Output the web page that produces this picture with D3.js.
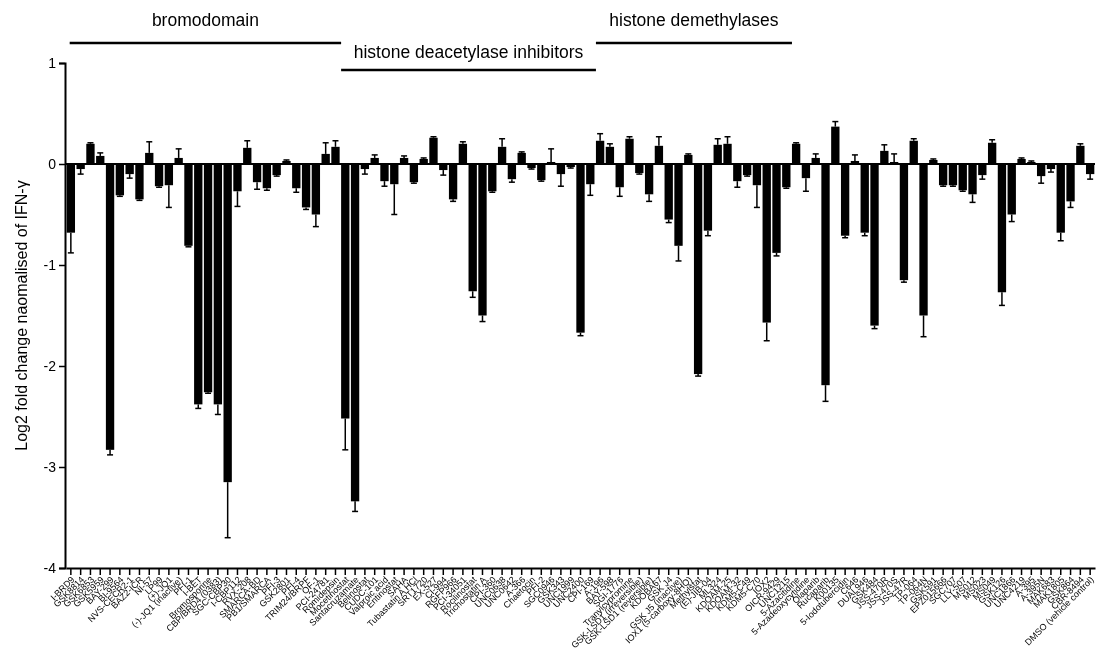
<!DOCTYPE html>
<html>
<head>
<meta charset="utf-8">
<script src="https://cdn.jsdelivr.net/npm/d3@7"></script>
<style>
  body { margin: 0; background: #fff; }
  svg { will-change: transform; }
  text { font-family: Arial, "Liberation Sans", sans-serif; fill: #000; }
</style>
</head>
<body>
<div id="chart"></div>
<script>

// compound names, in the order of the bars
const compounds = [
    'I-BRD9', 'GSK8814', 'GSK6853', 'GSK5959', 'BAY-299', 'BI-9564', 'NVS-CECR2-1', 'BAZ2-ICR',
    'NI-57', 'LP99', '(+)-JQ1', '(-)-JQ1 (inactive)', 'PFI-1', 'I-BET', 'Bromosporine',
    'CBP/BRD4 (0383)', 'SGC-CBP30', 'I-CBP112', 'RVX-208', 'SMARCA-BD', 'PB1/SMARCA', 'PFI-3',
    'GSK2801', 'PFI-4', 'TRIM24/BRPF', 'OF-1', 'PCI-24781', 'Romidepsin',
    'Mocetinostat', 'Santacruzamate', 'Belinostat', 'CUDC-101', 'Valproic acid', 'Entinostat',
    'SAHA', 'Tubastatin A HCl', 'SRT1720', 'EX-527', 'CI-994', 'RGFP966', 'PCI-34051',
    'Rocilinostat', 'Trichostatin A', 'CPI-360', 'UNC0638', 'UNC0642', 'A-366', 'Chaetocin',
    'PFI-2', 'SGC0946', 'GSK343', 'UNC1999', 'UNC2400', 'CPI-169',
    'A-196', 'BAY-598', 'SGI-1776', 'Tranylcypromine', 'GSK-LSD1 (irreversible)',
    'GSK-LSD1 (reversible)', 'KDOBA67', 'GSK J4', 'GSK J5 (inactive)', 'IOX1 (5-carboxy-8HQ)',
    'Methylstat', '(E)-JIB-04', 'ML324', 'KDOAM-25', 'KDOAM-32', 'KDM5-C49', 'KDM5-C70', 'IOX2',
    'OICR-9429', 'UNC1215',
    '5-Azacitidine', '5-Azadeoxycytidine', 'Olaparib', 'Rucaparib', 'K00135', '5-Iodotubercidin',
    'C646', 'DUAL946', 'GSK484', 'JSS-470R', 'JSS-470S', 'JSS-47R', 'TP-064', 'TP-064N',
    'GSK591', 'EPZ015666', 'SGC707', 'LLY-507', 'MS012', 'MS023', 'MS049', 'GSK126', 'UNC1866',
    'UNC4219', 'A-395', 'A-395N', 'MAK683', 'MAK1805', 'GSK864', 'CBR-8494', 'DMSO (vehicle control)'
];

// mean log2 fold change
const meanValues = [
    -0.68, -0.05, 0.20, 0.08, -2.83, -0.31, -0.10, -0.35, 0.11, -0.22,
    -0.21, 0.06, -0.81, -2.38, -2.26, -2.38, -3.15, -0.27, 0.16, -0.18,
    -0.24, -0.11, 0.03, -0.24, -0.43, -0.50, 0.10, 0.17, -2.52, -3.34,
    -0.05, 0.06, -0.17, -0.20, 0.06, -0.18, 0.05, 0.26, -0.06, -0.35,
    0.20, -1.26, -1.50, -0.27, 0.17, -0.15, 0.11, -0.04, -0.16, 0.02,
    -0.10, -0.03, -1.67, -0.20, 0.23, 0.17, -0.23, 0.25, -0.09, -0.30,
    0.18, -0.55, -0.81, 0.09, -2.08, -0.66, 0.19, 0.20, -0.17, -0.11,
    -0.21, -1.57, -0.88, -0.23, 0.20, -0.14, 0.06, -2.19, 0.37, -0.71,
    0.03, -0.68, -1.60, 0.13, 0.02, -1.15, 0.23, -1.50, 0.04, -0.21,
    -0.21, -0.26, -0.30, -0.11, 0.21, -1.27, -0.50, 0.05, 0.02, -0.12,
    -0.05, -0.68, -0.37, 0.18, -0.10
];

// SEM, drawn away from zero only
const semValues = [
    0.20, 0.05, 0.01, 0.03, 0.05, 0.01, 0.04, 0.01, 0.11, 0.01,
    0.22, 0.09, 0.01, 0.04, 0.01, 0.10, 0.55, 0.15, 0.07, 0.07,
    0.02, 0.01, 0.01, 0.04, 0.02, 0.12, 0.11, 0.06, 0.31, 0.10,
    0.05, 0.03, 0.05, 0.30, 0.02, 0.01, 0.01, 0.01, 0.05, 0.02,
    0.02, 0.06, 0.06, 0.01, 0.08, 0.03, 0.01, 0.01, 0.01, 0.13,
    0.12, 0.01, 0.03, 0.11, 0.07, 0.03, 0.09, 0.02, 0.01, 0.07,
    0.09, 0.03, 0.15, 0.01, 0.02, 0.05, 0.06, 0.07, 0.06, 0.01,
    0.22, 0.18, 0.03, 0.01, 0.01, 0.13, 0.04, 0.16, 0.05, 0.02,
    0.06, 0.03, 0.03, 0.06, 0.08, 0.02, 0.02, 0.21, 0.01, 0.01,
    0.01, 0.01, 0.08, 0.04, 0.03, 0.13, 0.07, 0.01, 0.01, 0.07,
    0.03, 0.08, 0.06, 0.02, 0.05
];

// compound classes marked above the plot (first and last bar index)
const groupNames = ['bromodomain', 'histone deacetylase inhibitors', 'histone demethylases'];
const groupFirst = [0, 28, 54];
const groupLast = [27, 53, 73];

const yTicks = [1, 0, -1, -2, -3, -4];

function drawChart() {

    const margin = {top: 63, right: 6, bottom: 83, left: 65},
        width = 1101 - margin.left - margin.right,
        height = 651 - margin.top - margin.bottom;

    const svg = d3.select('#chart')
    .append('svg')
        .attr('width', width + margin.left + margin.right)
        .attr('height', height + margin.top + margin.bottom)
    .append('g')
        .attr('transform', `translate(${margin.left}, ${margin.top})`);

    const data = compounds.map(function(name, i) {
        return {name: name, value: meanValues[i], sem: semValues[i]};
    });

    // X scale, one band per compound
    const x = d3.scaleBand()
        .domain(compounds)
        .range([1, width])
        .paddingInner(0.15)
        .paddingOuter(0.07);

    const y = d3.scaleLinear()
        .domain([-4, 1])
        .range([height, 0]);

    // bars
    svg.append('g')
        .selectAll('rect')
        .data(data)
        .enter()
        .append('rect')
        .attr('x', d => x(d.name))
        .attr('width', x.bandwidth())
        .attr('y', d => y(Math.max(0, d.value)))
        .attr('height', d => Math.abs(y(d.value) - y(0)))
        .style('fill', '#000');

    // error bars (one sided)
    const err = svg.append('g')
        .selectAll('g')
        .data(data)
        .enter()
        .append('g')
        .attr('transform', d => `translate(${x(d.name) + x.bandwidth() / 2}, 0)`);

    const tip = d => d.value >= 0 ? d.value + d.sem : d.value - d.sem;

    err.append('line')
        .attr('y1', d => y(d.value))
        .attr('y2', d => y(tip(d)))
        .style('stroke', '#000')
        .style('stroke-width', 1.5);
    err.append('line')
        .attr('x1', -3)
        .attr('x2', 3)
        .attr('y1', d => y(tip(d)))
        .attr('y2', d => y(tip(d)))
        .style('stroke', '#000')
        .style('stroke-width', 1.5);

    // zero line
    svg.append('line')
        .attr('x1', 0)
        .attr('x2', width)
        .attr('y1', y(0))
        .attr('y2', y(0))
        .style('stroke', '#000')
        .style('stroke-width', 2);

    // Y axis, plain hyphen for negatives like the original
    const yAxis = svg.append('g')
        .call(d3.axisLeft(y).tickValues(yTicks).tickSize(6).tickFormat(d => String(d)));
    yAxis.select('.domain').style('stroke-width', 2);
    yAxis.selectAll('.tick line').style('stroke-width', 1.5);
    yAxis.selectAll('.tick text')
        .attr('x', -9)
        .style('font-size', '14px')
        .style('font-family', 'Arial, "Liberation Sans", sans-serif');

    // X axis
    const xAxis = svg.append('g')
        .attr('transform', `translate(0, ${height})`)
        .call(d3.axisBottom(x).tickSize(7).tickSizeOuter(0));
    xAxis.select('.domain').style('stroke-width', 2);
    xAxis.selectAll('.tick line').style('stroke-width', 1.5);
    xAxis.selectAll('.tick text')
        .attr('transform', 'translate(2, 10) rotate(-45)')
        .attr('x', 0)
        .attr('y', 0)
        .attr('dy', '0.35em')
        .style('text-anchor', 'end')
        .style('font-size', '9px')
        .style('font-family', 'Arial, "Liberation Sans", sans-serif');

    // Y axis label
    svg.append('text')
        .attr('transform', 'rotate(-90)')
        .attr('x', -(y(-1.5)))
        .attr('y', -38)
        .style('text-anchor', 'middle')
        .style('font-size', '16px')
        .text('Log2 fold change naomalised of IFN-\u03b3');

    // compound class brackets, alternating rows
    groupNames.forEach(function(name, i) {
        const x0 = x(compounds[groupFirst[i]]) + (i === 0 ? 3 : 0);
        const x1 = x(compounds[groupLast[i]]) + x.step();
        const upper = i % 2 === 0;
        const lineY = upper ? -20 : 7;
        svg.append('line')
            .attr('x1', x0)
            .attr('x2', x1)
            .attr('y1', lineY)
            .attr('y2', lineY)
            .style('stroke', '#000')
            .style('stroke-width', 2.5);
        svg.append('text')
            .attr('x', (x0 + x1) / 2)
            .attr('y', lineY - (upper ? 17 : 12))
            .style('text-anchor', 'middle')
            .style('font-size', '17.5px')
            .text(name);
    });
}

drawChart();
</script>
</body>
</html>
